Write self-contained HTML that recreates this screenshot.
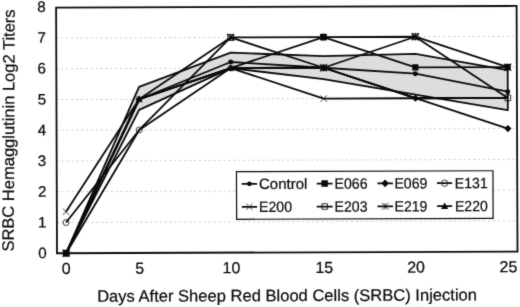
<!DOCTYPE html>
<html><head><meta charset="utf-8"><title>SRBC Hemagglutinin Titers</title>
<style>
html,body{margin:0;padding:0;background:#fff;}
body{width:520px;height:307px;overflow:hidden;font-family:"Liberation Sans",sans-serif;}
svg text{font-family:"Liberation Sans",sans-serif;stroke:#0a0a0a;stroke-width:0.22px;}
</style></head><body>
<svg width="520" height="307" viewBox="0 0 520 307" style="display:block">
<defs><filter id="soft" x="0" y="0" width="520" height="307" filterUnits="userSpaceOnUse" color-interpolation-filters="sRGB"><feConvolveMatrix order="3" kernelMatrix="0.015 0.09 0.015 0.09 0.58 0.09 0.015 0.09 0.015" edgeMode="duplicate"/></filter></defs>
<rect width="520" height="307" fill="#fff"/>
<g filter="url(#soft)">
<g transform="rotate(-0.21 287 130)">
<line x1="56.55" x2="517.05" y1="221.7" y2="221.7" stroke="#cbcbcb" stroke-width="0.9" stroke-dasharray="2.2 2.7"/>
<line x1="56.55" x2="517.05" y1="190.9" y2="190.9" stroke="#cbcbcb" stroke-width="0.9" stroke-dasharray="2.2 2.7"/>
<line x1="56.55" x2="517.05" y1="160.2" y2="160.2" stroke="#cbcbcb" stroke-width="0.9" stroke-dasharray="2.2 2.7"/>
<line x1="56.55" x2="517.05" y1="129.4" y2="129.4" stroke="#cbcbcb" stroke-width="0.9" stroke-dasharray="2.2 2.7"/>
<line x1="56.55" x2="517.05" y1="98.7" y2="98.7" stroke="#cbcbcb" stroke-width="0.9" stroke-dasharray="2.2 2.7"/>
<line x1="56.55" x2="517.05" y1="67.9" y2="67.9" stroke="#cbcbcb" stroke-width="0.9" stroke-dasharray="2.2 2.7"/>
<line x1="56.55" x2="517.05" y1="37.2" y2="37.2" stroke="#cbcbcb" stroke-width="0.9" stroke-dasharray="2.2 2.7"/>
<path d="M65.7 252.4L139.2 86.3L231.0 52.5L323.8 56.2L415.6 54.4L507.9 71.0L507.9 111.0L415.6 95.0L323.8 79.3L231.0 67.9L139.2 109.4L65.7 252.4Z" fill="#dddddd" stroke="#0a0a0a" stroke-width="1.8" stroke-linejoin="round"/>
<path d="M65.7 252.4L139.2 98.7L231.0 61.8L323.8 67.9L415.6 74.1L507.9 92.5" fill="none" stroke="#0a0a0a" stroke-width="1.8" stroke-linejoin="round"/>
<path d="M65.7 252.4L139.2 98.7L231.0 67.9L323.8 37.2L415.6 67.9L507.9 67.9" fill="none" stroke="#0a0a0a" stroke-width="1.8" stroke-linejoin="round"/>
<path d="M65.7 252.4L139.2 98.7L231.0 67.9L323.8 67.9L415.6 98.7L507.9 129.4" fill="none" stroke="#0a0a0a" stroke-width="1.8" stroke-linejoin="round"/>
<path d="M65.7 221.7L139.2 129.4L231.0 67.9L323.8 67.9L415.6 98.7L507.9 98.7" fill="none" stroke="#0a0a0a" stroke-width="1.8" stroke-linejoin="round"/>
<path d="M65.7 210.9L139.2 98.7L231.0 67.9L323.8 98.7L415.6 98.7L507.9 98.7" fill="none" stroke="#0a0a0a" stroke-width="1.8" stroke-linejoin="round"/>
<path d="M65.7 252.4L139.2 98.7L231.0 37.2L323.8 37.2L415.6 37.2L507.9 98.7" fill="none" stroke="#0a0a0a" stroke-width="1.8" stroke-linejoin="round"/>
<path d="M65.7 252.4L139.2 129.4L231.0 37.2L323.8 67.9L415.6 37.2L507.9 67.9" fill="none" stroke="#0a0a0a" stroke-width="1.8" stroke-linejoin="round"/>
<path d="M65.7 252.4L139.2 98.7L231.0 67.9L323.8 67.9L415.6 98.7L507.9 98.7" fill="none" stroke="#0a0a0a" stroke-width="1.8" stroke-linejoin="round"/>
<circle cx="65.7" cy="252.4" r="2.50" fill="#0a0a0a"/>
<circle cx="139.2" cy="98.7" r="2.50" fill="#0a0a0a"/>
<circle cx="231.0" cy="61.8" r="2.50" fill="#0a0a0a"/>
<circle cx="323.8" cy="67.9" r="2.50" fill="#0a0a0a"/>
<circle cx="415.6" cy="74.1" r="2.50" fill="#0a0a0a"/>
<circle cx="507.9" cy="92.5" r="2.50" fill="#0a0a0a"/>
<rect x="62.6" y="249.3" width="6.2" height="6.2" fill="#0a0a0a"/>
<rect x="320.7" y="34.1" width="6.2" height="6.2" fill="#0a0a0a"/>
<rect x="412.5" y="64.8" width="6.2" height="6.2" fill="#0a0a0a"/>
<rect x="504.8" y="64.8" width="6.2" height="6.2" fill="#0a0a0a"/>
<path d="M65.7 248.8L69.3 252.4L65.7 256.0L62.1 252.4Z" fill="#0a0a0a"/>
<path d="M139.2 95.1L142.8 98.7L139.2 102.2L135.6 98.7Z" fill="#0a0a0a"/>
<path d="M231.0 64.3L234.6 67.9L231.0 71.5L227.4 67.9Z" fill="#0a0a0a"/>
<path d="M323.8 64.3L327.4 67.9L323.8 71.5L320.2 67.9Z" fill="#0a0a0a"/>
<path d="M415.6 95.1L419.2 98.7L415.6 102.2L412.0 98.7Z" fill="#0a0a0a"/>
<path d="M507.9 125.8L511.5 129.4L507.9 133.0L504.3 129.4Z" fill="#0a0a0a"/>
<circle cx="65.7" cy="221.7" r="3.0" fill="none" stroke="#222" stroke-width="0.85"/>
<circle cx="139.2" cy="129.4" r="3.0" fill="none" stroke="#222" stroke-width="0.85"/>
<circle cx="323.8" cy="67.9" r="3.0" fill="none" stroke="#222" stroke-width="0.85"/>
<path d="M62.5 207.7L68.9 214.1M62.5 214.1L68.9 207.7" stroke="#222" stroke-width="0.85" fill="none"/>
<path d="M136.0 95.5L142.4 101.9M136.0 101.9L142.4 95.5" stroke="#222" stroke-width="0.85" fill="none"/>
<path d="M227.8 64.7L234.2 71.1M227.8 71.1L234.2 64.7" stroke="#222" stroke-width="0.85" fill="none"/>
<path d="M320.6 95.5L327.0 101.9M320.6 101.9L327.0 95.5" stroke="#222" stroke-width="0.85" fill="none"/>
<rect x="62.8" y="249.5" width="5.8" height="5.8" fill="none" stroke="#0a0a0a" stroke-width="0.85"/>
<rect x="228.1" y="34.3" width="5.8" height="5.8" fill="none" stroke="#0a0a0a" stroke-width="0.85"/>
<rect x="320.9" y="34.3" width="5.8" height="5.8" fill="none" stroke="#0a0a0a" stroke-width="0.85"/>
<rect x="412.7" y="34.3" width="5.8" height="5.8" fill="none" stroke="#0a0a0a" stroke-width="0.85"/>
<rect x="505.0" y="95.8" width="5.8" height="5.8" fill="none" stroke="#0a0a0a" stroke-width="0.85"/>
<path d="M62.2 248.9L69.2 255.9M62.2 255.9L69.2 248.9M65.7 248.9L65.7 255.9" stroke="#0a0a0a" stroke-width="1.2" fill="none"/>
<path d="M227.5 33.7L234.5 40.7M227.5 40.7L234.5 33.7M231.0 33.7L231.0 40.7" stroke="#0a0a0a" stroke-width="1.2" fill="none"/>
<path d="M320.3 64.4L327.3 71.4M320.3 71.4L327.3 64.4M323.8 64.4L323.8 71.4" stroke="#0a0a0a" stroke-width="1.2" fill="none"/>
<path d="M412.1 33.7L419.1 40.7M412.1 40.7L419.1 33.7M415.6 33.7L415.6 40.7" stroke="#0a0a0a" stroke-width="1.2" fill="none"/>
<path d="M504.4 64.4L511.4 71.4M504.4 71.4L511.4 64.4M507.9 64.4L507.9 71.4" stroke="#0a0a0a" stroke-width="1.2" fill="none"/>
<path d="M65.7 249.0L69.1 255.1L62.3 255.1Z" fill="#0a0a0a"/>
<path d="M139.2 95.2L142.6 101.4L135.8 101.4Z" fill="#0a0a0a"/>
<path d="M231.0 64.5L234.4 70.6L227.6 70.6Z" fill="#0a0a0a"/>
<path d="M323.8 64.5L327.2 70.6L320.4 70.6Z" fill="#0a0a0a"/>
<rect x="56.55" y="6.8" width="460.5" height="245.6" fill="none" stroke="#0a0a0a" stroke-width="1.8"/>
<rect x="236.3" y="171.5" width="256.5" height="47.6" fill="#fff" stroke="#0a0a0a" stroke-width="1.2"/>
<line x1="241.5" x2="256.8" y1="183.7" y2="183.7" stroke="#0a0a0a" stroke-width="1.8"/>
<circle cx="249.2" cy="183.7" r="2.38" fill="#0a0a0a"/>
<text x="258.8" y="189.0" font-size="15" fill="#0a0a0a">Control</text>
<line x1="316.5" x2="332.4" y1="183.7" y2="183.7" stroke="#0a0a0a" stroke-width="1.8"/>
<rect x="321.2" y="180.4" width="6.5" height="6.5" fill="#0a0a0a"/>
<text x="334.3" y="189.0" font-size="15" textLength="33" lengthAdjust="spacingAndGlyphs" fill="#0a0a0a">E066</text>
<line x1="377.2" x2="392.7" y1="183.7" y2="183.7" stroke="#0a0a0a" stroke-width="1.8"/>
<path d="M384.9 179.9L388.7 183.7L384.9 187.5L381.2 183.7Z" fill="#0a0a0a"/>
<text x="394.2" y="189.0" font-size="15" textLength="33" lengthAdjust="spacingAndGlyphs" fill="#0a0a0a">E069</text>
<line x1="436.8" x2="451.9" y1="183.7" y2="183.7" stroke="#0a0a0a" stroke-width="1.8"/>
<circle cx="444.4" cy="183.7" r="3.2" fill="none" stroke="#222" stroke-width="0.85"/>
<text x="454.6" y="189.0" font-size="15" textLength="33" lengthAdjust="spacingAndGlyphs" fill="#0a0a0a">E131</text>
<line x1="241.5" x2="256.8" y1="206.7" y2="206.7" stroke="#0a0a0a" stroke-width="1.8"/>
<path d="M246.1 203.7L252.2 209.7M246.1 209.7L252.2 203.7" stroke="#222" stroke-width="0.85" fill="none"/>
<text x="258.8" y="212.0" font-size="15" textLength="33" lengthAdjust="spacingAndGlyphs" fill="#0a0a0a">E200</text>
<line x1="316.5" x2="332.4" y1="206.7" y2="206.7" stroke="#0a0a0a" stroke-width="1.8"/>
<rect x="321.7" y="203.9" width="5.5" height="5.5" fill="none" stroke="#0a0a0a" stroke-width="0.85"/>
<text x="334.3" y="212.0" font-size="15" textLength="33" lengthAdjust="spacingAndGlyphs" fill="#0a0a0a">E203</text>
<line x1="377.2" x2="392.7" y1="206.7" y2="206.7" stroke="#0a0a0a" stroke-width="1.8"/>
<path d="M381.6 203.4L388.3 210.0M381.6 210.0L388.3 203.4M384.9 203.4L384.9 210.0" stroke="#0a0a0a" stroke-width="0.8" fill="none"/>
<text x="394.2" y="212.0" font-size="15" textLength="33" lengthAdjust="spacingAndGlyphs" fill="#0a0a0a">E219</text>
<line x1="436.8" x2="451.9" y1="206.7" y2="206.7" stroke="#0a0a0a" stroke-width="1.8"/>
<path d="M444.4 203.1L447.9 209.6L440.8 209.6Z" fill="#0a0a0a"/>
<text x="454.6" y="212.0" font-size="15" textLength="33" lengthAdjust="spacingAndGlyphs" fill="#0a0a0a">E220</text>
<text x="46.2" y="257.4" font-size="15.2" text-anchor="end" fill="#0a0a0a">0</text>
<text x="46.2" y="226.6" font-size="15.2" text-anchor="end" fill="#0a0a0a">1</text>
<text x="46.2" y="195.8" font-size="15.2" text-anchor="end" fill="#0a0a0a">2</text>
<text x="46.2" y="165.1" font-size="15.2" text-anchor="end" fill="#0a0a0a">3</text>
<text x="46.2" y="134.3" font-size="15.2" text-anchor="end" fill="#0a0a0a">4</text>
<text x="46.2" y="103.5" font-size="15.2" text-anchor="end" fill="#0a0a0a">5</text>
<text x="46.2" y="72.7" font-size="15.2" text-anchor="end" fill="#0a0a0a">6</text>
<text x="46.2" y="41.9" font-size="15.2" text-anchor="end" fill="#0a0a0a">7</text>
<text x="46.2" y="11.2" font-size="15.2" text-anchor="end" fill="#0a0a0a">8</text>
<text x="65.7" y="273.1" font-size="16" text-anchor="middle" fill="#0a0a0a">0</text>
<text x="139.2" y="273.1" font-size="16" text-anchor="middle" fill="#0a0a0a">5</text>
<text x="231.0" y="273.1" font-size="16" text-anchor="middle" fill="#0a0a0a">10</text>
<text x="323.8" y="273.1" font-size="16" text-anchor="middle" fill="#0a0a0a">15</text>
<text x="415.6" y="273.1" font-size="16" text-anchor="middle" fill="#0a0a0a">20</text>
<text x="507.9" y="273.1" font-size="16" text-anchor="middle" fill="#0a0a0a">25</text>
<text x="286.45" y="301.15" font-size="16.56" text-anchor="middle" fill="#0a0a0a">Days After Sheep Red Blood Cells (SRBC) Injection</text>
</g>
<text transform="translate(14.2 130.5) rotate(-89.76)" font-size="16.5" text-anchor="middle" fill="#0a0a0a">SRBC Hemagglutinin Log2 Titers</text>
</g>
</svg>
</body></html>
